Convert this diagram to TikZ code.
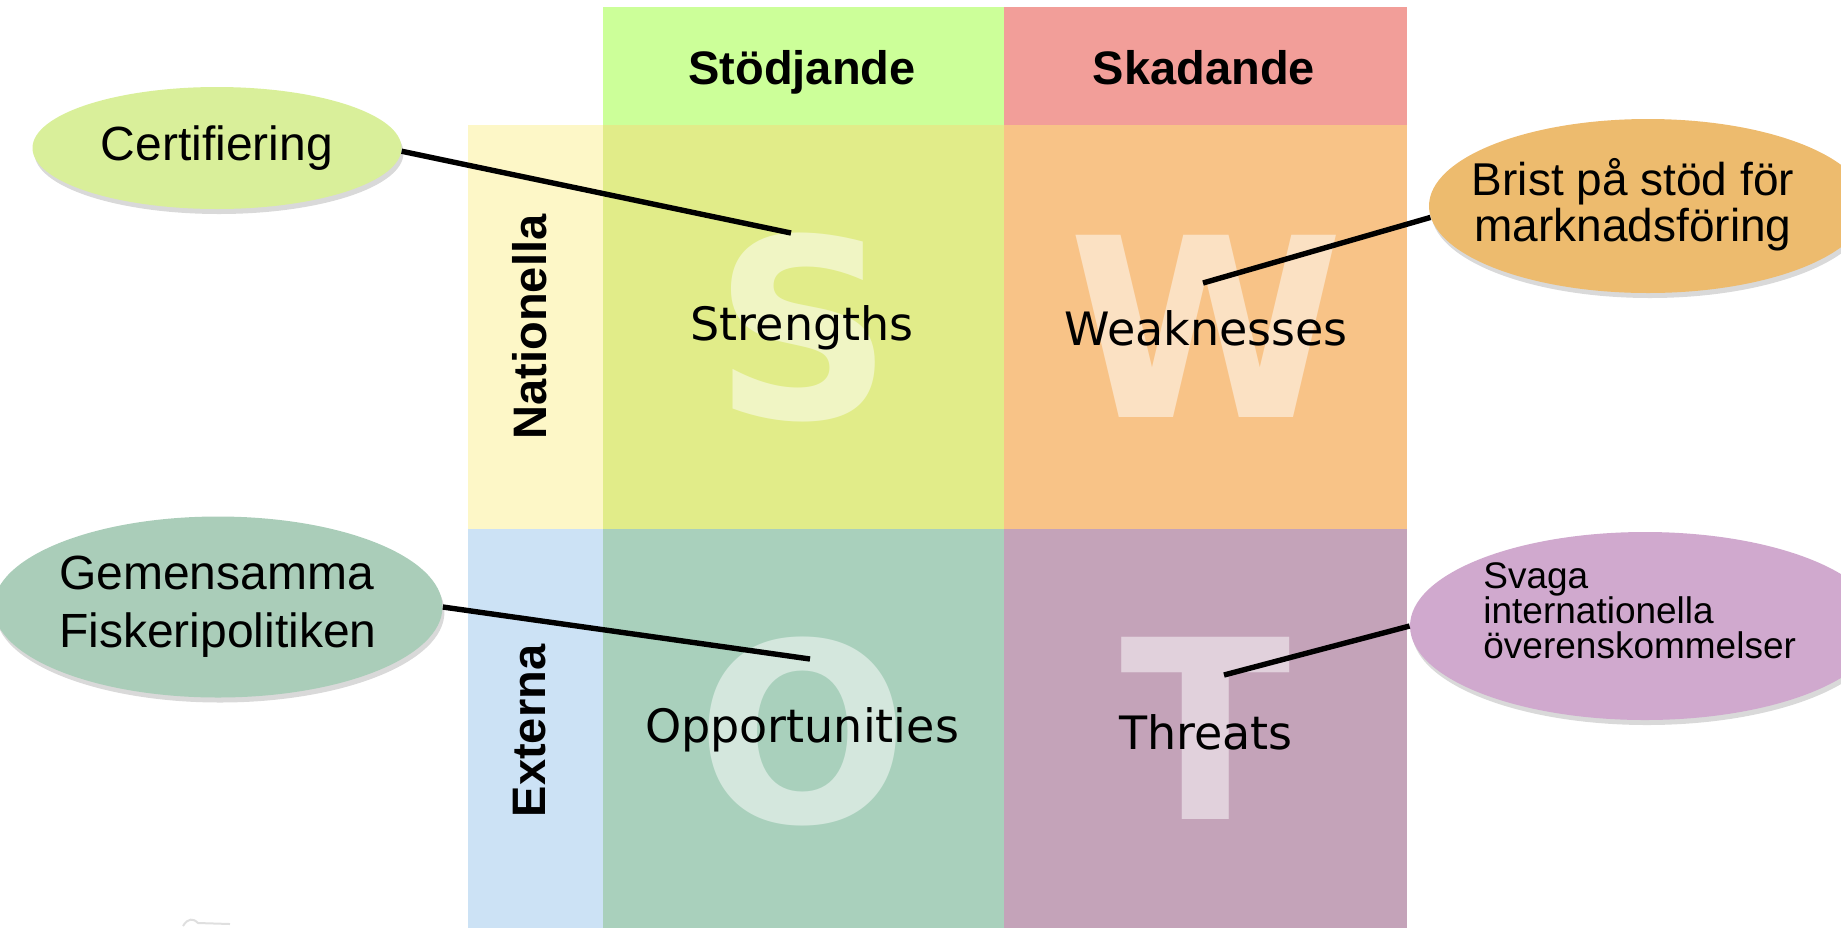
\documentclass[tikz,border=0pt]{standalone}
\usepackage{fontspec}
\setmainfont{Liberation Sans}
\newfontfamily\dejavu{DejaVu Sans}
\usetikzlibrary{shapes.geometric,shadows}
\definecolor{stodgreen}{HTML}{CCFF99}
\definecolor{skadred}{HTML}{F29E99}
\definecolor{natyellow}{HTML}{FDF7C7}
\definecolor{extblue}{HTML}{CCE2F5}
\definecolor{scell}{HTML}{E1EC89}
\definecolor{wcell}{HTML}{F8C387}
\definecolor{ocell}{HTML}{A9D0BC}
\definecolor{tcell}{HTML}{C4A3B9}
\definecolor{certfill}{HTML}{D9EF9A}
\definecolor{bristfill}{HTML}{EDBB6E}
\definecolor{gemfill}{HTML}{AACDB9}
\definecolor{svagafill}{HTML}{D0A9CE}

\begin{document}
\begin{tikzpicture}[x=0.5pt,y=-0.5pt,
  bubble/.style={ellipse, inner sep=0pt, drop shadow={shadow xshift=1pt, shadow yshift=-2.5pt, opacity=0.3}},
  bigletter/.style={anchor=base, inner sep=0pt, text=white, text opacity=0.5, font=\dejavu\bfseries\fontsize{125}{125}\selectfont},
  celllabel/.style={anchor=base, inner sep=0pt, font=\dejavu\fontsize{23}{28}\selectfont},
  head/.style={anchor=base, inner sep=0pt, font=\bfseries\fontsize{23.5}{28}\selectfont},
  side/.style={rotate=90, inner sep=0pt, font=\bfseries\fontsize{23.5}{28}\selectfont},
  pin/.style={line width=2.7pt}]
\useasboundingbox (0,0) rectangle (1841,928);

\fill[stodgreen] (603,7) rectangle (1004,125);
\fill[skadred] (1004,7) rectangle (1407,125);
\fill[natyellow] (468,125) rectangle (603,529);
\fill[extblue] (468,529) rectangle (603,928);
\fill[scell] (603,125) rectangle (1004,529);
\fill[wcell] (1004,125) rectangle (1407,529);
\fill[ocell] (603,529) rectangle (1004,928);
\fill[tcell] (1004,529) rectangle (1407,928);

\node[bigletter] (bigS) at (804,418) {S};
\node[bigletter] (bigW) at (1206,417) {W};
\node[bigletter] (bigO) at (803,822) {O};
\node[bigletter] (bigT) at (1206,819) {T};

\node[head] (stod) at (802,84) {Stödjande};
\node[head] (skad) at (1204,84) {Skadande};
\node[side] (nat) at (530,327) {Nationella};
\node[side] (ext) at (530,731) {Externa};

\node[celllabel] (str) at (802,340) {Strengths};
\node[celllabel] (weak) at (1206,345) {Weaknesses};
\node[celllabel] (opp) at (802,742) {Opportunities};
\node[celllabel] (thr) at (1206,749) {Threats};

\coordinate (sEnd) at (791,233);
\coordinate (wEnd) at (1203,283);
\coordinate (oEnd) at (810,659);
\coordinate (tEnd) at (1224,675);

\node[bubble, fill=certfill, minimum width=184.5pt, minimum height=61pt, font=\fontsize{24}{28}\selectfont] (cert) at (217,148) {Certifiering};
\node[bubble, fill=bristfill, minimum width=219pt, minimum height=87pt] (brist) at (1648,206) {};
\node[align=center, inner sep=0pt, font=\fontsize{23}{23}\selectfont] (bristtxt) at (1633,205) {Brist på stöd för\\marknadsföring};
\node[bubble, fill=gemfill, minimum width=213.5pt, minimum height=90.5pt, align=left, font=\fontsize{24}{29}\selectfont] (gem) at (218,607) {Gemensamma\\Fiskeripolitiken};
\node[bubble, fill=svagafill, minimum width=235pt, minimum height=94pt] (svaga) at (1645,626) {};
\node[align=left, anchor=north west, inner sep=0pt, font=\fontsize{18.5}{17.5}\selectfont] (svagatxt) at (1483,562) {Svaga\\internationella\\överenskommelser};

\draw[pin] (cert.-1) -- (sEnd);
\draw[pin] (brist.183) -- (wEnd);
\draw[pin] (gem.east) -- (oEnd);
\draw[pin] (svaga.west) -- (tEnd);

\draw[gray!25, line width=1pt] (183,926) .. controls (188,918) and (193,918) .. (198,923) -- (230,924);
\end{tikzpicture}
\end{document}
